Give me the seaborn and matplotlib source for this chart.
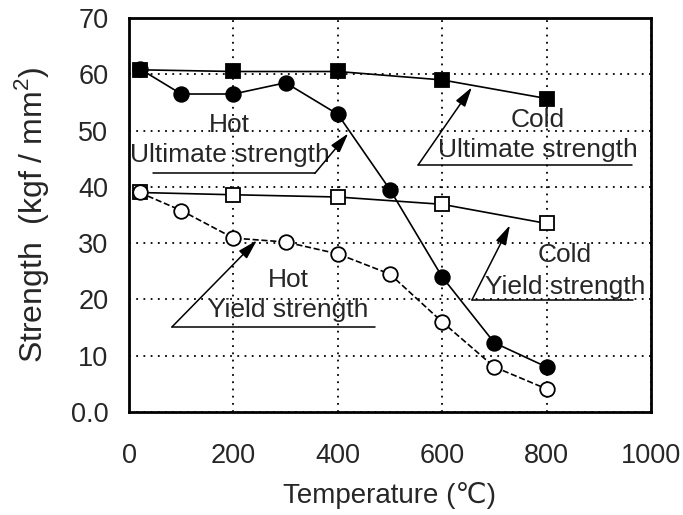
import matplotlib
matplotlib.use("Agg")
import matplotlib.pyplot as plt
import seaborn as sns
import pandas as pd

# Measured strengths (kgf/mm^2) versus temperature (deg C)
temps_cold = [20, 200, 400, 600, 800]
cold_ultimate = [60.8, 60.5, 60.5, 59.0, 55.7]
cold_yield = [39.0, 38.6, 38.2, 36.9, 33.5]

temps_hot = [20, 100, 200, 300, 400, 500, 600, 700, 800]
hot_ultimate = [61.0, 56.5, 56.5, 58.5, 52.9, 39.5, 24.0, 12.3, 8.0]
hot_yield = [39.0, 35.8, 30.9, 30.2, 28.1, 24.5, 16.0, 8.0, 4.1]

x_ticks = [0, 200, 400, 600, 800, 1000]
y_ticks = [0, 10, 20, 30, 40, 50, 60, 70]
y_tick_labels = ["0.0", "10", "20", "30", "40", "50", "60", "70"]

# Callout labels: condition, property, text x, condition y, property y,
# underline start/end x, underline y, arrow tip x/y
label_cond = ["Hot", "Cold", "Hot", "Cold"]
label_prop = ["Ultimate strength", "Ultimate strength", "Yield strength", "Yield strength"]
label_x = [193, 783, 305, 835]
cond_y = [51.0, 51.9, 23.4, 27.9]
prop_y = [45.6, 46.5, 18.1, 22.2]
line_x0 = [46, 554, 82, 657]
line_x1 = [356, 963, 471, 966]
line_y = [42.4, 43.9, 15.1, 19.9]
tip_x = [420, 657, 245, 730]
tip_y = [49.5, 57.7, 30.5, 33.2]
arrow_from_end = [True, False, False, False]

sns.set_style("white")
plt.rcParams["font.family"] = ["Liberation Sans", "DejaVu Sans"]
plt.rcParams["mathtext.fontset"] = "custom"
plt.rcParams["mathtext.rm"] = "Liberation Sans"

fig = plt.figure(figsize=(6.83, 5.15), dpi=100)
ax = fig.add_axes([0.189, 0.2, 0.764, 0.765])

series = [
    (temps_cold, cold_ultimate, "s", "black", "-", 10.5),
    (temps_cold, cold_yield, "s", "white", "-", 10.5),
    (temps_hot, hot_ultimate, "o", "black", "-", 10.5),
    (temps_hot, hot_yield, "o", "white", "--", 10.5),
]
for xs, ys, mk, fc, ls, ms in series:
    df = pd.DataFrame({"Temperature": xs, "Strength": ys})
    sns.lineplot(data=df, x="Temperature", y="Strength", ax=ax, color="black",
                 linewidth=1.2, linestyle=ls, marker=mk, markersize=ms,
                 markerfacecolor=fc, markeredgecolor="black", markeredgewidth=1.3,
                 estimator=None, sort=False, zorder=3)

for i in range(len(label_cond)):
    ax.text(label_x[i], cond_y[i], label_cond[i], ha="center", va="center",
            fontsize=19, zorder=4)
    ax.text(label_x[i], prop_y[i], label_prop[i], ha="center", va="center",
            fontsize=19, zorder=4)
    ax.plot([line_x0[i], line_x1[i]], [line_y[i], line_y[i]], color="black",
            linewidth=1.1, zorder=4)
    start_x = line_x1[i] if arrow_from_end[i] else line_x0[i]
    ax.annotate("", xy=(tip_x[i], tip_y[i]), xytext=(start_x, line_y[i]),
                arrowprops=dict(arrowstyle="-|>,head_length=1.0,head_width=0.28",
                                color="black", lw=1.1, shrinkA=0, shrinkB=0,
                                mutation_scale=12), zorder=4)

ax.set_xlim(0, 1000)
ax.set_ylim(0, 70)
ax.set_xticks(x_ticks)
ax.set_yticks(y_ticks)
ax.set_yticklabels(y_tick_labels)
ax.tick_params(axis="x", length=0, pad=22, labelsize=19.5)
ax.tick_params(axis="y", length=0, pad=15, labelsize=19.5)
ax.grid(True, color="black", linestyle=(0, (1, 3)), linewidth=1.3)
for sp in ax.spines.values():
    sp.set_color("black")
    sp.set_linewidth(2.0)

ax.set_xlabel("Temperature (\u2103)", fontsize=20, labelpad=10)
ax.set_ylabel("Strength  (kgf / mm$^2$)", fontsize=23, labelpad=14)

fig.savefig("out.png", dpi=100, facecolor="white")
